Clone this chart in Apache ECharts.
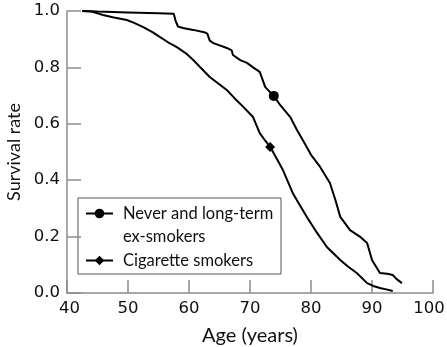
<!DOCTYPE html>
<html>
<head>
<meta charset="utf-8">
<script src="https://cdn.jsdelivr.net/npm/echarts@6/dist/echarts.min.js"></script>
<style>
  html, body { margin: 0; padding: 0; background: #fff; }
  #chart { width: 447px; height: 347px; }
</style>
</head>
<body>
<div id="chart"></div>
<script>
// ages and survival rates
var neverAge = [42.5, 45, 50, 55, 57.5, 57.8, 58.2, 59, 60.7, 62.5, 63, 63.4, 64, 66.2, 67, 67.2, 68.4, 69.5, 70.5, 71.6, 72.5, 73.9, 75, 76.6, 77.7, 79.3, 80, 81.5, 83.1, 84, 84.8, 86.4, 88, 89.2, 90, 91.3, 92.5, 93.4, 94, 94.9];
var neverSurv = [1.0, 0.998, 0.995, 0.992, 0.99, 0.965, 0.945, 0.94, 0.933, 0.925, 0.92, 0.895, 0.886, 0.869, 0.86, 0.844, 0.826, 0.816, 0.8, 0.784, 0.73, 0.699, 0.665, 0.624, 0.578, 0.518, 0.49, 0.447, 0.39, 0.33, 0.27, 0.223, 0.2, 0.177, 0.117, 0.071, 0.068, 0.064, 0.05, 0.035];
var smokerAge = [42.5, 44, 45, 45.9, 47.5, 49.8, 51, 52.5, 54, 55.2, 56.5, 58, 59.5, 60.7, 62, 63.4, 64.8, 66.2, 67.5, 68.9, 70.5, 71.6, 72.5, 73.3, 73.6, 75.4, 77, 78.2, 79.3, 81, 82.6, 84.8, 86, 87.5, 89.2, 90.2, 91.3, 92.5, 93.4];
var smokerSurv = [1.0, 0.998, 0.992, 0.986, 0.978, 0.968, 0.958, 0.943, 0.925, 0.908, 0.89, 0.872, 0.85, 0.826, 0.797, 0.766, 0.743, 0.72, 0.69, 0.66, 0.624, 0.567, 0.54, 0.518, 0.507, 0.436, 0.355, 0.31, 0.27, 0.213, 0.163, 0.117, 0.095, 0.071, 0.035, 0.025, 0.018, 0.012, 0.007];
var neverMark = 21;   // index of the circle marker
var smokerMark = 23;  // index of the diamond marker
var yTicks = ['0.0', '0.2', '0.4', '0.6', '0.8', '1.0'];
var neverName = 'Never and long-term\nex-smokers';
var smokerName = 'Cigarette smokers';

var font = 'Lato';
var numFont = 'DejaVu Sans';
var axisGrey = '#8c8c8c';

function toData(ages, vals, mark) {
	return ages.map(function (a, i) {
		if (i === mark) {
			return { value: [a, vals[i]], symbolSize: 10 };
		}
		return [a, vals[i]];
	});
}

var chart = echarts.init(document.getElementById('chart'));
var option = {
	animation: false,
	backgroundColor: '#fff',
	textStyle: { fontFamily: font },
	grid: { left: 67, right: 14, top: 11, bottom: 54, outerBoundsMode: 'none' },
	legend: {
		orient: 'vertical',
		left: 85,
		top: 179,
		padding: 0,
		itemGap: 1,
		itemWidth: 27,
		itemHeight: 12,
		textStyle: {
			fontFamily: font,
			fontSize: 16.5,
			color: '#111',
			lineHeight: 23,
			padding: [0, 0, 0, 5]
		},
		// blank first line keeps the marker level with the first text line
		formatter: function (name) {
			return name === neverName ? '\n' + name : name;
		},
		data: [neverName, smokerName]
	},
	graphic: [
		{
			type: 'rect',
			shape: { x: 78, y: 198, width: 203, height: 76 },
			style: { fill: 'none', stroke: '#555', lineWidth: 1 },
			z: -1
		}
	],
	xAxis: {
		type: 'value',
		min: 40,
		max: 100,
		interval: 10,
		name: 'Age (years)',
		nameLocation: 'middle',
		nameGap: 33,
		nameTextStyle: { fontFamily: font, fontSize: 20, color: '#111' },
		axisLine: { lineStyle: { color: axisGrey, width: 1.5 } },
		axisTick: { inside: true, length: 13, lineStyle: { color: axisGrey, width: 1.5 } },
		axisLabel: {
			fontFamily: numFont,
			fontSize: 16.5,
			color: '#111',
			margin: 7,
			formatter: function (v) {
				if (v === 40) return '{lo|40}';
				if (v === 100) return '{hi|100}';
				return String(v);
			},
			rich: {
				lo: { fontFamily: numFont, fontSize: 16.5, color: '#111', padding: [0, 0, 0, 5] },
				hi: { fontFamily: numFont, fontSize: 16.5, color: '#111', padding: [0, 8, 0, 0] }
			}
		},
		splitLine: { show: false }
	},
	yAxis: {
		type: 'value',
		min: 0,
		max: 1,
		interval: 0.2,
		name: 'Survival rate',
		nameLocation: 'middle',
		nameGap: 44,
		nameTextStyle: { fontFamily: font, fontSize: 18, color: '#111' },
		axisLine: { show: true, lineStyle: { color: axisGrey, width: 1.5 } },
		axisTick: { show: true, inside: true, length: 14, lineStyle: { color: axisGrey, width: 1.5 } },
		axisLabel: {
			fontFamily: numFont,
			fontSize: 16.5,
			color: '#111',
			margin: 7,
			formatter: function (v) { return yTicks[Math.round(v * 5)]; }
		},
		splitLine: { show: false }
	},
	series: [
		{
			name: neverName,
			type: 'line',
			symbol: 'circle',
			symbolSize: 0,
			showSymbol: true,
			showAllSymbol: true,
			color: '#000',
			lineStyle: { color: '#000', width: 2 },
			itemStyle: { color: '#000' },
			data: toData(neverAge, neverSurv, neverMark)
		},
		{
			name: smokerName,
			type: 'line',
			symbol: 'diamond',
			symbolSize: 0,
			showSymbol: true,
			showAllSymbol: true,
			color: '#000',
			lineStyle: { color: '#000', width: 2 },
			itemStyle: { color: '#000' },
			data: toData(smokerAge, smokerSurv, smokerMark)
		}
	]
};
chart.setOption(option);
</script>
</body>
</html>
